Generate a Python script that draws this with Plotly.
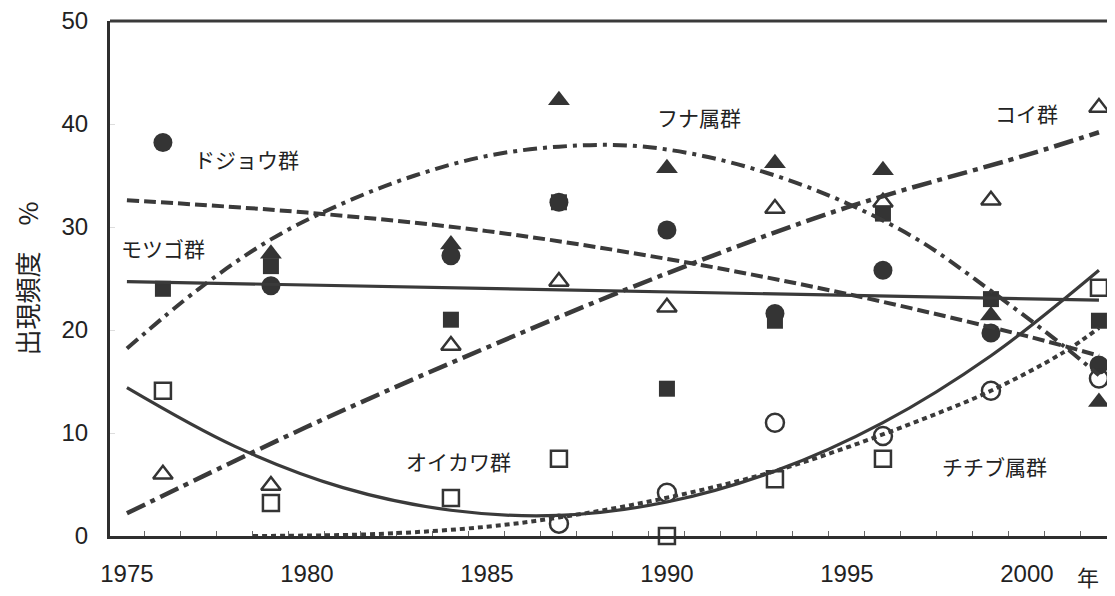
import plotly.graph_objects as go

# ---- data ----
years = [1976, 1979, 1984, 1987, 1990, 1993, 1996, 1999, 2002]
dojou = [38.2, 24.3, 27.2, 32.4, 29.7, 21.6, 25.8, 19.7, 16.6]      # ドジョウ群 ●
motsugo = [24.0, 26.2, 21.0, 32.4, 14.3, 20.9, 31.3, 23.0, 20.9]    # モツゴ群 ■
funa = [None, 27.4, 28.3, 42.3, 35.7, 36.2, 35.5, 21.4, 13.0]       # フナ属群 ▲
koi = [6.0, 4.9, 18.5, 24.7, 22.2, 31.8, 32.4, 32.6, 41.6]          # コイ群 △
oikawa = [14.1, 3.2, 3.7, 7.5, 0.0, 5.5, 7.5, None, 24.1]           # オイカワ群 □
chichibu = [None, None, None, 1.2, 4.2, 11.0, 9.7, 14.1, 15.3]      # チチブ属群 ○

# trend curves
dojou_tx = [1975, 1980, 1985, 1990, 1995, 2000, 2002]
dojou_ty = [32.6, 31.4, 29.6, 26.9, 23.5, 19.4, 17.5]
motsugo_tx = [1975, 2002]
motsugo_ty = [24.7, 22.9]
funa_tx = [1975, 1977, 1979, 1981, 1983, 1985, 1987, 1989, 1991, 1993, 1995, 1997, 1999, 2001, 2002]
funa_ty = [18.2, 24.0, 28.8, 32.3, 35.0, 36.9, 37.8, 37.9, 36.9, 35.0, 32.3, 28.7, 23.8, 18.5, 15.6]
koi_tx = [1975, 1980, 1985, 1990, 1995, 2000, 2002]
koi_ty = [2.2, 10.6, 18.3, 25.5, 31.9, 37.0, 39.2]
oikawa_tx = [1975, 1978, 1981, 1984, 1987, 1990, 1993, 1996, 1999, 2002]
oikawa_ty = [14.4, 8.7, 4.7, 2.5, 2.0, 3.3, 6.3, 11.0, 17.5, 25.8]
chichibu_tx = [1978.5, 1982, 1985, 1987, 1989, 1991, 1993, 1995, 1997, 1999, 2001, 2002]
chichibu_ty = [0.0, 0.2, 0.9, 1.8, 3.0, 4.5, 6.3, 8.6, 11.2, 14.1, 17.8, 20.2]

x_ticks = [1975, 1980, 1985, 1990, 1995, 2000]
y_ticks = [0, 10, 20, 30, 40, 50]

labels = ["ドジョウ群", "モツゴ群", "フナ属群", "コイ群", "オイカワ群", "チチブ属群"]

INK = "#343434"
LINE = "#3a3a3a"

fig = go.Figure()

def marker_trace(y, symbol, size, open_=False):
    m = dict(symbol=symbol, size=size, color=INK)
    if open_:
        m = dict(symbol=symbol, size=size, color=INK, line=dict(color=INK, width=2.5))
    fig.add_trace(go.Scatter(x=years, y=y, mode="markers", marker=m,
                             cliponaxis=False, showlegend=False, hoverinfo="skip"))

marker_trace(dojou, "circle", 19)
marker_trace(motsugo, "square", 16)
marker_trace(funa, "triangle-up", 19)
marker_trace(koi, "triangle-up-open", 17, True)
marker_trace(oikawa, "square-open", 16, True)
marker_trace(chichibu, "circle-open", 18, True)

def trend(x, y, dash, width):
    fig.add_trace(go.Scatter(x=x, y=y, mode="lines",
                             line=dict(color=LINE, width=width, dash=dash, shape="spline", smoothing=1.0),
                             showlegend=False, hoverinfo="skip"))

trend(dojou_tx, dojou_ty, "12px,5px", 4)
trend(motsugo_tx, motsugo_ty, "solid", 3.2)
trend(funa_tx, funa_ty, "14px,6px,4px,6px", 4)
trend(koi_tx, koi_ty, "20px,6px,5px,6px", 4.5)
trend(oikawa_tx, oikawa_ty, "solid", 3.2)
trend(chichibu_tx, chichibu_ty, "5px,4px", 4)

JP = "Noto Sans CJK JP"
label_pos = [(1976.8, 36.6, "left"), (1976.0, 28.0, "center"), (1990.9, 40.7, "center"),
             (2000.0, 41.1, "center"), (1984.2, 7.3, "center"), (1999.1, 6.8, "center")]
for (lx, ly, al), txt in zip(label_pos, labels):
    fig.add_annotation(x=lx, y=ly, text=txt, showarrow=False, xanchor=al,
                       font=dict(family=JP, size=21, color="#222"))

# page has an 8px body margin: figure is placed at (8,8)
W, H = 1107, 588
L, T, PW, PH = 102, 13, 1003, 515
fig.add_annotation(xref="paper", yref="paper", x=(1080 - L) / PW, y=(T + PH - 568) / PH,
                   xanchor="center", yanchor="middle",
                   text="年", showarrow=False,
                   font=dict(family=JP, size=22, color="#222"))

fig.update_layout(
    width=W, height=H,
    margin=dict(l=L, r=W - L - PW, t=T, b=H - T - PH),
    paper_bgcolor="white", plot_bgcolor="white",
    font=dict(family="Liberation Sans, Arial, sans-serif", color="#222"),
    xaxis=dict(range=[1974.53, 2002.39], tickvals=x_ticks, ticktext=[str(v) for v in x_ticks],
               ticks="", tickfont=dict(size=24), ticklabelstandoff=14, automargin=False,
               ticklabeloverflow="allow",
               showgrid=False, zeroline=False,
               showline=True, linecolor="#2e2e2e", linewidth=3, mirror=False,
               minor=dict(ticks="inside", tick0=1974.5, dtick=1, ticklen=5, tickcolor="#666", tickwidth=1)),
    yaxis=dict(range=[0, 50], tickvals=y_ticks, ticks="inside", ticklen=5, tickcolor="#ddd",
               tickfont=dict(size=24), ticklabelstandoff=14, automargin=False,
               ticklabeloverflow="allow",
               showgrid=False, zeroline=False,
               showline=True, linecolor="#2e2e2e", linewidth=3,
               title=dict(text="出現頻度　%", font=dict(family=JP, size=26, color="#222"), standoff=26)),
)

# top and right frame
fig.add_shape(type="line", xref="paper", yref="paper", x0=0, x1=1, y0=1, y1=1,
              line=dict(color="#3a3a3a", width=3))
fig.add_shape(type="line", xref="paper", yref="paper", x0=1, x1=1, y0=0, y1=1,
              line=dict(color="#bdbdbd", width=1.5))

fig.write_html("out.html")
